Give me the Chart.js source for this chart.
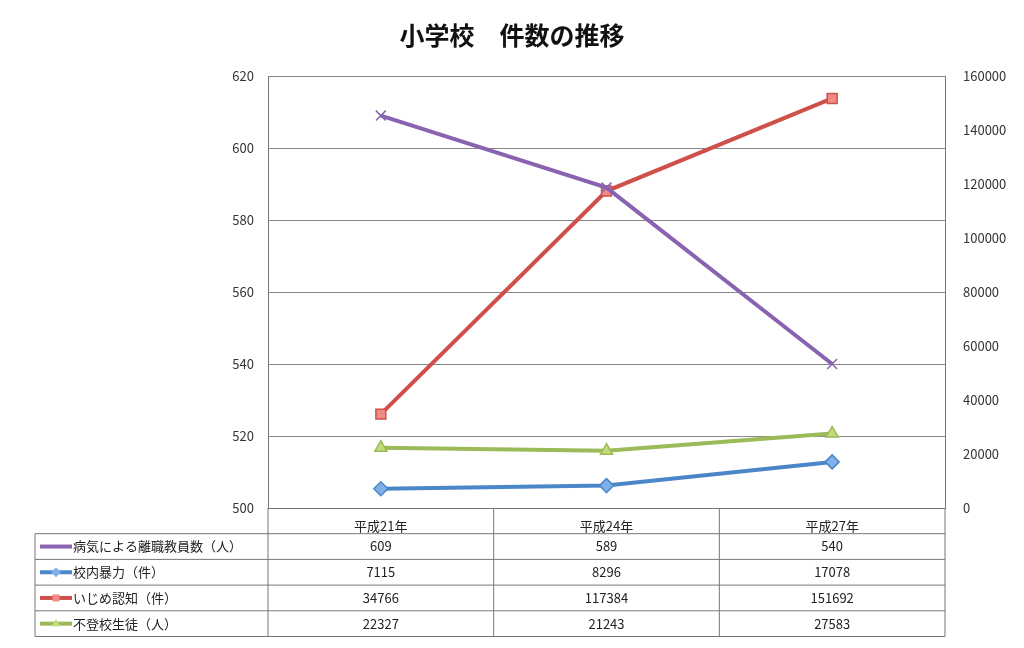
<!DOCTYPE html>
<html><head><meta charset="utf-8">
<script src="https://cdn.jsdelivr.net/npm/chart.js@4"></script>
<style>body{margin:0;background:#fff}#wrap{width:1024px;height:648px}</style>
</head><body><div id="wrap"><canvas id="c" width="1024" height="648"></canvas></div>
<script>
const categories = ['平成21年', '平成24年', '平成27年']
const sickLeave = [609, 589, 540]
const violence = [7115, 8296, 17078]
const bullying = [34766, 117384, 151692]
const absent = [22327, 21243, 27583]
const seriesNames = ['病気による離職教員数（人）', '校内暴力（件）', 'いじめ認知（件）', '不登校生徒（人）']
const colors = ['#8a63b0', '#4a86c8', '#cf4f4b', '#9bbb59']
const fills = ['#8a63b0', '#7fb0e8', '#f08a86', '#c3dc7a']
const styles = ['crossRot', 'rectRot', 'rect', 'triangle']
const allData = [sickLeave, violence, bullying, absent]
const font = "'Noto Sans CJK JP', sans-serif"

const tablePlugin = {
    id: 'table',
    afterDraw(chart) {
        let ctx = chart.ctx
        let x = chart.scales.x
        let area = chart.chartArea
        let left = 35, right = area.right, top = area.bottom, rowH = 25.7
        let cols = [area.left]
        for (let i = 0; i < categories.length; i++) {
            cols.push(area.left + (area.right - area.left) * (i + 1) / categories.length)
        }
        ctx.save()
        ctx.strokeStyle = '#777'
        ctx.lineWidth = 1
        cols.forEach(c => { ctx.beginPath(); ctx.moveTo(c, top); ctx.lineTo(c, top + rowH * 5); ctx.stroke() })
        ctx.beginPath(); ctx.moveTo(left, top + rowH); ctx.lineTo(left, top + rowH * 5); ctx.stroke()
        for (let r = 1; r <= 5; r++) {
            ctx.beginPath(); ctx.moveTo(left, top + rowH * r); ctx.lineTo(right, top + rowH * r); ctx.stroke()
        }
        ctx.font = '13px ' + font
        ctx.fillStyle = '#222'
        ctx.textBaseline = 'middle'
        allData.forEach((row, r) => {
            let y = top + rowH * (r + 1.5)
            ctx.textAlign = 'center'
            row.forEach((v, i) => ctx.fillText(String(v), x.getPixelForValue(i), y))
            ctx.strokeStyle = colors[r]
            ctx.lineWidth = 4
            ctx.beginPath(); ctx.moveTo(40, y); ctx.lineTo(72, y); ctx.stroke()
            ctx.fillStyle = fills[r]
            ctx.lineWidth = 1.5
            Chart.helpers.drawPoint(ctx, {pointStyle: styles[r], radius: 5, rotation: 0}, 56, y)
            ctx.fillStyle = '#222'
            ctx.textAlign = 'left'
            ctx.fillText(seriesNames[r], 73, y)
        })
        ctx.restore()
    }
}

const datasets = allData.map((d, i) => ({
    label: seriesNames[i],
    data: d,
    yAxisID: i === 0 ? 'y' : 'y1',
    borderColor: colors[i],
    backgroundColor: fills[i],
    pointStyle: styles[i],
    pointRadius: 7,
    pointBorderWidth: 1.5,
    borderWidth: 4,
    tension: 0
}))

new Chart(document.getElementById('c'), {
    type: 'line',
    data: {labels: categories, datasets: datasets},
    plugins: [tablePlugin],
    options: {
        responsive: false,
        animation: false,
        layout: {padding: {top: 12, bottom: 115, left: 0, right: 0}},
        plugins: {
            legend: {display: false},
            tooltip: {enabled: false},
            title: {display: true, text: '小学校　件数の推移', color: '#111', font: {family: font, size: 25, weight: 'bold'}, padding: {top: 8, bottom: 26}}
        },
        scales: {
            x: {
                offset: true,
                grid: {display: false},
                border: {color: '#777'},
                ticks: {color: '#222', font: {family: font, size: 13}, padding: 2},
                afterFit: s => { s.height = 25 }
            },
            y: {
                position: 'left', min: 500, max: 620,
                ticks: {stepSize: 20, color: '#333', font: {family: font, size: 13}, padding: 14},
                grid: {color: '#888', drawTicks: false},
                border: {color: '#777'},
                afterFit: s => { s.width = 268 }
            },
            y1: {
                position: 'right', min: 0, max: 160000,
                ticks: {stepSize: 20000, color: '#333', font: {family: font, size: 13}, padding: 10, callback: v => String(v)},
                grid: {display: false},
                border: {color: '#777'},
                afterFit: s => { s.width = 79 }
            }
        }
    }
})
</script></body></html>
